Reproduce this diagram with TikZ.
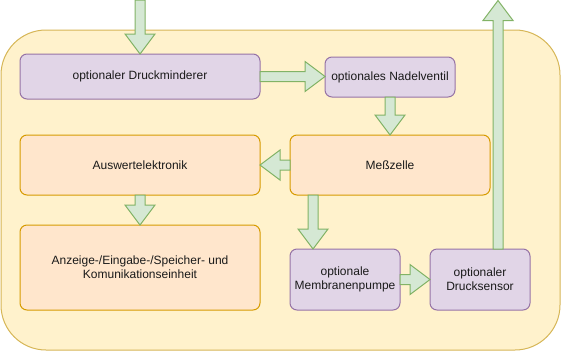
\documentclass[tikz,border=0pt]{standalone}
\usepackage{fontspec}
\setmainfont{Liberation Sans}
\usetikzlibrary{calc}
\definecolor{contfill}{HTML}{FFF2CC}
\definecolor{contline}{HTML}{D6B656}
\definecolor{purfill}{HTML}{E1D5E7}
\definecolor{purline}{HTML}{9673A6}
\definecolor{orfill}{HTML}{FFE6CC}
\definecolor{orline}{HTML}{D79B00}
\definecolor{grfill}{HTML}{D5E8D4}
\definecolor{grline}{HTML}{82B366}
\definecolor{txt}{HTML}{1A1A1A}
\newcommand{\blockarrow}[2]{%
  \coordinate (bahd) at ($(#2)!20pt!(#1)$);
  \filldraw[flexarrow] ($(#1)!5pt!90:(#2)$) -- ($(bahd)!5pt!90:(#2)$) -- ($(bahd)!15pt!90:(#2)$) -- (#2)
    -- ($(bahd)!15pt!-90:(#2)$) -- ($(bahd)!5pt!-90:(#2)$) -- ($(#1)!5pt!-90:(#2)$) -- cycle;%
}
\tikzset{
  box/.style={rectangle, rounded corners=7pt, line width=1pt, inner sep=0pt, outer sep=0pt,
    font=\fontsize{12}{14}\selectfont, text=txt, align=center},
  purbox/.style={box, fill=purfill, draw=purline},
  orbox/.style={box, fill=orfill, draw=orline},
  container/.style={rectangle, rounded corners=45pt, fill=contfill, draw=contline, line width=1pt, inner sep=0pt},
  flexarrow/.style={fill=grfill, draw=grline, line width=1pt, line join=miter}
}
\begin{document}
\begin{tikzpicture}[x=1pt,y=-1pt]
\useasboundingbox (0,0) rectangle (561,351);
\node[container, minimum width=559pt, minimum height=320pt] (cont) at (280.5,190) {};
\node[purbox, minimum width=240pt, minimum height=45pt] (dm) at (140,76.5) {optionaler Druckminderer};
\node[purbox, minimum width=130pt, minimum height=40pt] (nv) at (390,77) {optionales Nadelventil};
\node[orbox, minimum width=200pt, minimum height=60pt] (mz) at (390,165) {Meßzelle};
\node[orbox, minimum width=240pt, minimum height=60pt] (ae) at (140,165) {Auswertelektronik};
\node[orbox, minimum width=240pt, minimum height=85pt] (an) at (140,267.5) {Anzeige-/Eingabe-/Speicher- und\\Komunikationseinheit};
\node[purbox, minimum width=110pt, minimum height=61pt] (mp) at (345,279.5) {optionale\\Membranenpumpe};
\node[purbox, minimum width=100pt, minimum height=61pt] (ds) at (480,279.5) {optionaler\\Drucksensor};
\coordinate (in) at (140,0);
\coordinate (out) at (498,0.5);
\coordinate (mzout) at ([xshift=23pt]mz.south west);
\coordinate (mpin) at ([xshift=23pt]mp.north west);
\coordinate (dsout) at ([xshift=68pt]ds.north west);
\coordinate (nvin) at (nv.west |- dm.east);
\blockarrow{in}{dm.north}
\blockarrow{dm.east}{nvin}
\blockarrow{nv.south}{mz.north}
\blockarrow{mz.west}{ae.east}
\blockarrow{ae.south}{an.north}
\blockarrow{mzout}{mpin}
\blockarrow{mp.east}{ds.west}
\blockarrow{dsout}{out}
\end{tikzpicture}
\end{document}
